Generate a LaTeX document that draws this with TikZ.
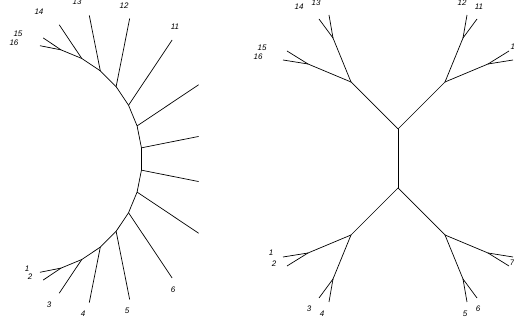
\documentclass[tikz,border=0pt]{standalone}
\usepackage{fontspec}
\setmainfont{Liberation Sans}
\usetikzlibrary{calc}

\begin{document}
\begin{tikzpicture}[x=1pt, y=1pt,
    branch/.style={line width=0.7pt},
    taxon/.style={font=\fontsize{8}{8}\selectfont\itshape, inner sep=0pt}]

      \useasboundingbox (0,0) rectangle (514,323);
      \clip (0,0) rectangle (514,323);

      % fan layout
      \coordinate (fc) at (28,164);
      \begin{scope}
        \clip (0,0) rectangle (198.5,323);
        \foreach \n/\ja/\la/\len in {1/-73.125/-168.75/21.5, 2/-73.125/-146.25/21.5,
            3/-61.875/-123.75/40.5, 4/-50.625/-101.25/56.5, 5/-39.375/-78.75/69.5,
            6/-28.125/-56.25/78.5, 7/-16.875/-33.75/85, 8/-5.625/-11.25/88,
            9/5.625/11.25/88, 10/16.875/33.75/85, 11/28.125/56.25/78.5,
            12/39.375/78.75/69.5, 13/50.625/101.25/56.5, 14/61.875/123.75/40.5,
            15/73.125/146.25/21.5, 16/73.125/168.75/21.5} {
          \coordinate (fj\n) at ($(fc)+(\ja:114)$);
          \coordinate (fl\n) at ($(fj\n)+(\la:\len)$);
          \draw[branch] (fj\n) -- (fl\n);
        }
        \draw[branch] (fj1) \foreach \n in {3,...,14} {-- (fj\n)} -- (fj16);
      \end{scope}

      \node[taxon] (fn1) at (27,54) {1};
      \node[taxon] (fn2) at (30,46) {2};
      \node[taxon] (fn3) at (49,18) {3};
      \node[taxon] (fn4) at (83,9) {4};
      \node[taxon] (fn5) at (127,12) {5};
      \node[taxon] (fn6) at (173,33) {6};
      \node[taxon] (fn11) at (175,296) {11};
      \node[taxon] (fn12) at (124,317) {12};
      \node[taxon] (fn13) at (77,321) {13};
      \node[taxon] (fn14) at (39,311) {14};
      \node[taxon] (fn15) at (18,289) {15};
      \node[taxon] (fn16) at (14,280) {16};

      % unrooted layout
      \coordinate (ua) at (398,194);
      \coordinate (ub) at (398,135);
      \coordinate (uul) at (351,241);
      \coordinate (uur) at (445,241);
      \coordinate (udl) at (351,88);
      \coordinate (udr) at (445,88);
      \coordinate (u1314) at (333,285);
      \coordinate (u1516) at (308,259);
      \coordinate (u1112) at (463,285);
      \coordinate (u0910) at (488,259);
      \coordinate (u0102) at (308,70);
      \coordinate (u0304) at (333,44);
      \coordinate (u0506) at (463,44);
      \coordinate (u0708) at (488,70);

      \coordinate (ul1) at (283,66);
      \coordinate (ul2) at (287,57);
      \coordinate (ul3) at (319,25);
      \coordinate (ul4) at (329,21);
      \coordinate (ul5) at (467,21);
      \coordinate (ul6) at (477,25);
      \coordinate (ul7) at (509,57);
      \coordinate (ul8) at (513,66);
      \coordinate (ul9) at (513,263);
      \coordinate (ul10) at (509,272);
      \coordinate (ul11) at (477,304);
      \coordinate (ul12) at (467,308);
      \coordinate (ul13) at (329,308);
      \coordinate (ul14) at (319,304);
      \coordinate (ul15) at (287,272);
      \coordinate (ul16) at (283,263);

      \draw[branch] (ua) -- (ub);
      \draw[branch] (ua) -- (uul);
      \draw[branch] (ua) -- (uur);
      \draw[branch] (ub) -- (udl);
      \draw[branch] (ub) -- (udr);
      \draw[branch] (uul) -- (u1314);
      \draw[branch] (uul) -- (u1516);
      \draw[branch] (uur) -- (u1112);
      \draw[branch] (uur) -- (u0910);
      \draw[branch] (udl) -- (u0102);
      \draw[branch] (udl) -- (u0304);
      \draw[branch] (udr) -- (u0506);
      \draw[branch] (udr) -- (u0708);
      \draw[branch] (u0102) -- (ul1);
      \draw[branch] (u0102) -- (ul2);
      \draw[branch] (u0304) -- (ul3);
      \draw[branch] (u0304) -- (ul4);
      \draw[branch] (u0506) -- (ul5);
      \draw[branch] (u0506) -- (ul6);
      \draw[branch] (u0708) -- (ul7);
      \draw[branch] (u0708) -- (ul8);
      \draw[branch] (u0910) -- (ul9);
      \draw[branch] (u0910) -- (ul10);
      \draw[branch] (u1112) -- (ul11);
      \draw[branch] (u1112) -- (ul12);
      \draw[branch] (u1314) -- (ul13);
      \draw[branch] (u1314) -- (ul14);
      \draw[branch] (u1516) -- (ul15);
      \draw[branch] (u1516) -- (ul16);

      \node[taxon] (un1) at (271,70) {1};
      \node[taxon] (un2) at (274,59) {2};
      \node[taxon] (un3) at (309,14) {3};
      \node[taxon] (un4) at (322,9) {4};
      \node[taxon] (un5) at (465,9) {5};
      \node[taxon] (un6) at (478,14) {6};
      \node[taxon] (un7) at (512,60) {7};
      \node[taxon] (un10) at (515,276) {10};
      \node[taxon] (un11) at (479,316) {11};
      \node[taxon] (un12) at (462,320) {12};
      \node[taxon] (un13) at (316,320) {13};
      \node[taxon] (un14) at (299,316) {14};
      \node[taxon] (un15) at (262,275) {15};
      \node[taxon] (un16) at (258,266) {16};

    \end{tikzpicture}
\end{document}
